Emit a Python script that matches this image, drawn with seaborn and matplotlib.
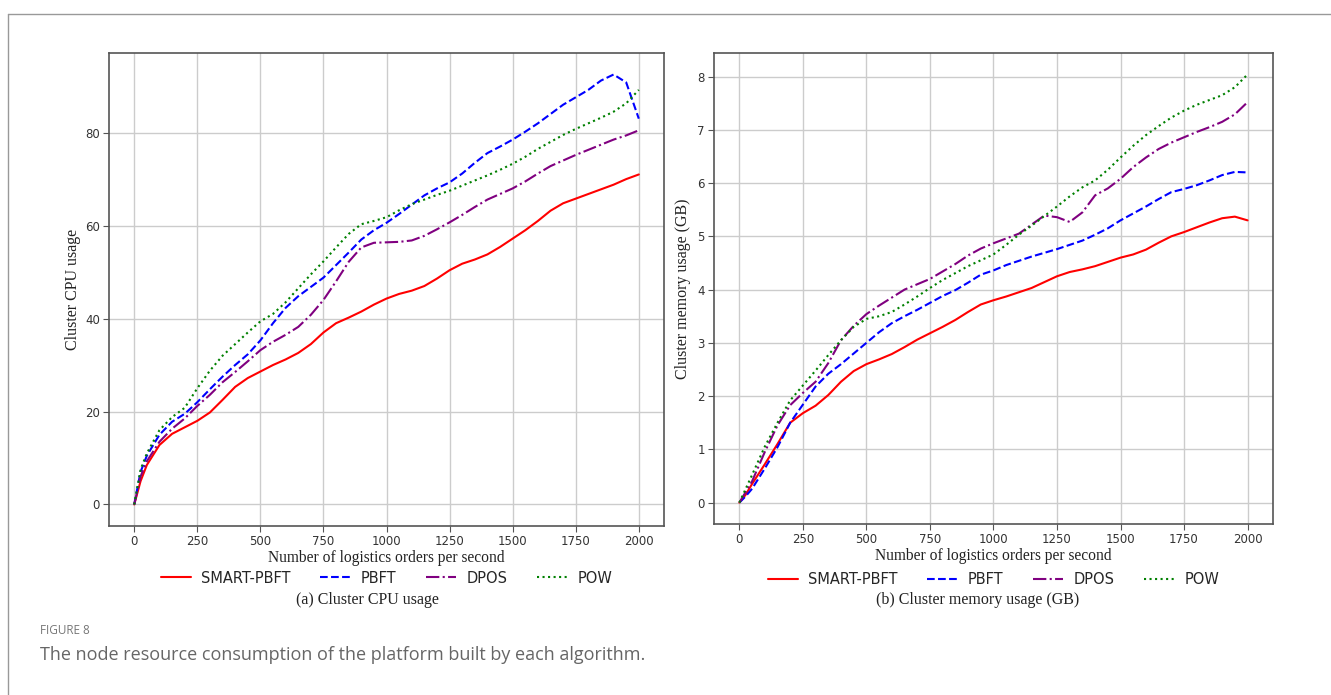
import matplotlib
matplotlib.use('Agg')
import matplotlib.pyplot as plt
import seaborn as sns
from matplotlib.lines import Line2D

sns.set_style('whitegrid')

# orders per second (shared x values for both panels)
orders = [0, 25, 50, 100, 150, 200, 250, 300, 350, 400, 450, 500, 550, 600,
          650, 700, 750, 800, 850, 900, 950, 1000, 1050, 1100, 1150, 1200,
          1250, 1300, 1350, 1400, 1450, 1500, 1550, 1600, 1650, 1700, 1750,
          1800, 1850, 1900, 1950, 2000]

# (a) cluster CPU usage
cpu_smart = [0, 5, 8.5, 12.8, 15.2, 16.6, 18, 19.8, 22.5, 25.3, 27.2, 28.6,
             30, 31.2, 32.6, 34.5, 37, 39, 40.2, 41.5, 43, 44.3, 45.3, 46,
             47, 48.6, 50.4, 51.8, 52.7, 53.8, 55.4, 57.2, 59, 61, 63.2, 64.8,
             65.8, 66.8, 67.8, 68.8, 70, 71]
cpu_pbft = [0, 7, 10.5, 15, 17.8, 19.5, 22, 24.8, 27.5, 30, 32.3, 35.3, 39,
            42.3, 44.8, 46.8, 48.8, 51.5, 54.2, 57, 59, 60.6, 62.5, 64.5,
            66.5, 68, 69.3, 71.2, 73.5, 75.6, 77, 78.5, 80.2, 82, 84, 86,
            87.6, 89.2, 91.2, 92.5, 90.8, 83]
cpu_dpos = [0, 6, 9.3, 13.5, 16.3, 18.5, 21.2, 23.6, 26.3, 28.5, 30.8, 33.2,
            35, 36.5, 38.2, 40.8, 44, 48, 52.2, 55.3, 56.3, 56.4, 56.5, 56.8,
            57.8, 59.2, 60.7, 62.3, 64, 65.6, 66.8, 68, 69.5, 71.2, 72.8, 74,
            75.2, 76.3, 77.4, 78.5, 79.4, 80.5]
cpu_pow = [0, 7.5, 11, 16, 18.8, 20.8, 25, 28.8, 32, 34.5, 37, 39.4, 41,
           43.5, 46.5, 49.5, 52.3, 55.3, 58.2, 60.3, 61, 61.8, 63.3, 64.6,
           65.6, 66.6, 67.5, 68.6, 69.7, 70.8, 72, 73.3, 74.8, 76.5, 78, 79.5,
           80.8, 82, 83.2, 84.5, 86.3, 89.2]

# (b) cluster memory usage (GB)
mem_smart = [0, 0.15, 0.35, 0.72, 1.1, 1.5, 1.68, 1.82, 2.02, 2.27, 2.47, 2.6,
             2.69, 2.79, 2.92, 3.06, 3.18, 3.3, 3.43, 3.58, 3.72, 3.8, 3.87,
             3.95, 4.03, 4.14, 4.25, 4.33, 4.38, 4.44, 4.52, 4.6, 4.66, 4.75,
             4.88, 5.0, 5.08, 5.17, 5.26, 5.34, 5.37, 5.3]
mem_pbft = [0, 0.12, 0.26, 0.64, 1.04, 1.5, 1.84, 2.18, 2.42, 2.6, 2.8, 3.0,
            3.2, 3.37, 3.5, 3.62, 3.75, 3.88, 3.99, 4.13, 4.28, 4.36, 4.46,
            4.54, 4.62, 4.69, 4.76, 4.84, 4.92, 5.03, 5.15, 5.3, 5.43, 5.56,
            5.7, 5.83, 5.89, 5.96, 6.05, 6.15, 6.21, 6.2]
mem_dpos = [0, 0.2, 0.4, 0.95, 1.45, 1.83, 2.06, 2.27, 2.62, 3.05, 3.32, 3.54,
            3.7, 3.85, 4.0, 4.1, 4.2, 4.34, 4.48, 4.64, 4.77, 4.87, 4.96,
            5.05, 5.22, 5.39, 5.36, 5.27, 5.45, 5.77, 5.9, 6.08, 6.3, 6.48,
            6.64, 6.76, 6.86, 6.96, 7.05, 7.15, 7.29, 7.52]
mem_pow = [0, 0.26, 0.52, 1.05, 1.5, 1.92, 2.2, 2.48, 2.77, 3.05, 3.3, 3.45,
           3.5, 3.58, 3.72, 3.87, 4.03, 4.18, 4.31, 4.44, 4.55, 4.66, 4.84,
           5.03, 5.2, 5.38, 5.56, 5.75, 5.92, 6.05, 6.25, 6.48, 6.7, 6.9,
           7.07, 7.23, 7.36, 7.47, 7.56, 7.65, 7.8, 8.04]

algorithms = ['SMART-PBFT', 'PBFT', 'DPOS', 'POW']
colours = ['red', 'blue', 'purple', 'green']
styles = ['-', '--', '-.', ':']

serif = ['Liberation Serif', 'DejaVu Serif']
sans = ['DejaVu Sans']

fig = plt.figure(figsize=(13.31, 6.95), dpi=100)
ax1 = fig.add_axes([0.0819, 0.2432, 0.417, 0.6805])
ax2 = fig.add_axes([0.5364, 0.246, 0.42, 0.6777])

panels = [
    (ax1, [cpu_smart, cpu_pbft, cpu_dpos, cpu_pow], 'Cluster CPU usage',
     '(a) Cluster CPU usage', [0, 20, 40, 60, 80], -0.05, 367, -0.11),
    (ax2, [mem_smart, mem_pbft, mem_dpos, mem_pow],
     'Cluster memory usage (GB)', '(b) Cluster memory usage (GB)',
     list(range(9)), -0.041, 978, -0.117),
]

for ax, series, ylab, sub, yticks, ylx, subx, legy in panels:
    for vals, name, c, ls in zip(series, algorithms, colours, styles):
        sns.lineplot(x=orders, y=vals, ax=ax, color=c, linestyle=ls,
                     linewidth=1.5, label=name)
    ax.set_xticks(range(0, 2001, 250))
    ax.set_yticks(yticks)
    ax.grid(True, color='#cccccc', linewidth=1.0)
    for s in ax.spines.values():
        s.set_color('#555555')
        s.set_linewidth(1.2)
    ax.tick_params(axis='both', which='both', direction='out', length=4,
                   width=0.8, color='#555555', labelsize=8.5, pad=2.5,
                   labelcolor='#333333', bottom=True, left=True)
    for t in ax.get_xticklabels() + ax.get_yticklabels():
        t.set_family(sans)
    ax.set_xlabel('Number of logistics orders per second', family=serif,
                  fontsize=11.2, color='#222222')
    ax.xaxis.set_label_coords(0.5, -0.05)
    ax.set_ylabel(ylab, family=serif, fontsize=11.5, color='#222222')
    ax.yaxis.set_label_coords(ylx, 0.5)
    ax.legend(loc='center', bbox_to_anchor=(0.5, legy), ncol=4,
              frameon=False, prop={'family': sans, 'size': 10.5},
              handlelength=2.1, handletextpad=0.7, columnspacing=2.0,
              borderaxespad=0)
    fig.text(subx / 1331, 1 - 600 / 695, sub, ha='center',
             va='center', family=serif, fontsize=11.5, color='#222222')

fig.text(40 / 1331, 1 - 631 / 695, 'FIGURE 8', ha='left', va='center',
         family=['Open Sans', 'DejaVu Sans'], fontsize=8.5, color='#777777')
fig.text(40 / 1331, 1 - 655 / 695,
         'The node resource consumption of the platform built by each algorithm.',
         ha='left', va='center', family=['Open Sans', 'DejaVu Sans'],
         fontsize=13, color='#666666')

# page frame lines (top and left)
fig.add_artist(Line2D([8 / 1331, 1], [1 - 14 / 695, 1 - 14 / 695],
                      color='#999999', linewidth=1))
fig.add_artist(Line2D([8 / 1331, 8 / 1331], [0, 1 - 14 / 695],
                      color='#999999', linewidth=1))

plt.savefig('out.png', dpi=100)
